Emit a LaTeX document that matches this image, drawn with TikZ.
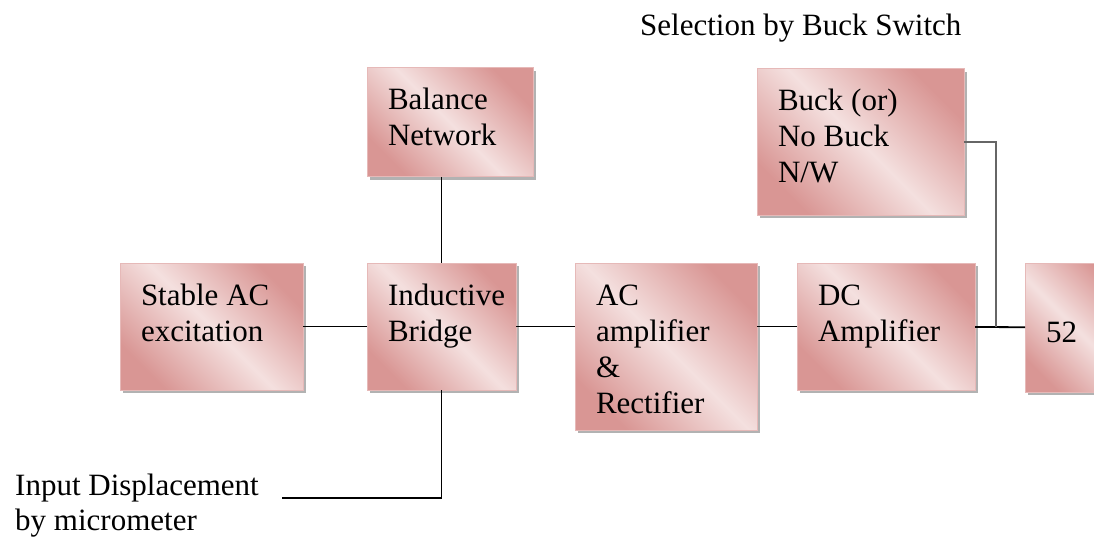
\documentclass[tikz,border=0pt]{standalone}
\usepackage{fontspec}
\setmainfont{Liberation Serif}
\usetikzlibrary{positioning,shadows}
\definecolor{boxdark}{RGB}{217,150,148}
\definecolor{boxlight}{RGB}{244,224,223}
\definecolor{boxedge}{RGB}{230,185,184}

\begin{document}
\begin{tikzpicture}[x=1pt, y=-1pt,
		box/.style={draw=boxedge, line width=1pt, outer sep=0pt, left color=boxdark, right color=boxdark,
								middle color=boxlight, shading angle=-45,
								drop shadow={shadow xshift=3pt, shadow yshift=-3pt, fill=black, opacity=0.3},
								align=flush left, inner xsep=21pt, inner ysep=21pt, text height=21pt,
								font=\fontsize{31}{36}\selectfont},
		plain/.style={align=flush left, inner sep=0pt, text height=21pt, font=\fontsize{31}{35}\selectfont},
		wire/.style={line width=1.8pt},
	]
		\useasboundingbox (0,0) rectangle (1094,540);

		% main chain
		\node[box, text width=141pt, text depth=64pt, anchor=north west] (stable) at (120,263)
			{Stable AC\\excitation};
		\node[box, text width=107pt, text depth=64pt, right=64pt of stable] (bridge)
			{Inductive\\Bridge};
		\node[box, text width=140pt, text depth=104pt, right=59pt of bridge.north east, anchor=north west] (acamp)
			{AC\\amplifier\\\&\\Rectifier};
		\node[box, text width=136pt, text depth=64pt, right=40pt of acamp.north east, anchor=north west] (dcamp)
			{DC\\Amplifier};
		\node[box, text width=58pt, text height=58pt, text depth=29pt, right=50pt of dcamp.north east, anchor=north west] (meter)
			{52};

		% upper boxes
		\node[box, text width=124pt, text depth=46pt, above=86pt of bridge.north west, anchor=south west] (balance)
			{Balance\\Network};
		\node[box, text width=165pt, text depth=83pt, anchor=north west] (buck) at (757,69)
			{Buck (or)\\No Buck\\N/W};

		% free texts
		\node[plain, anchor=base west] (selection) at (640,36) {Selection by Buck Switch};
		\node[plain, text width=250pt, anchor=north west] (input) at (15,474)
			{Input Displacement\\by micrometer};

		\coordinate[right=21pt of dcamp.east] (junction);
		\coordinate (feed) at (282,498);

		% connections
		\draw[wire] (stable) -- (bridge);
		\draw[wire] (bridge.east) -- (bridge.east -| acamp.west);
		\draw[wire] (acamp.east |- dcamp.west) -- (dcamp.west);
		\draw[wire] (dcamp) -- (meter);
		\draw[wire] (balance.south -| bridge.north) -- (bridge.north);
		\draw[wire] (bridge.south) |- (feed);
		\draw[wire, draw=black!60, line width=2.5pt] (buck.east) -| (junction);
	\end{tikzpicture}
\end{document}
